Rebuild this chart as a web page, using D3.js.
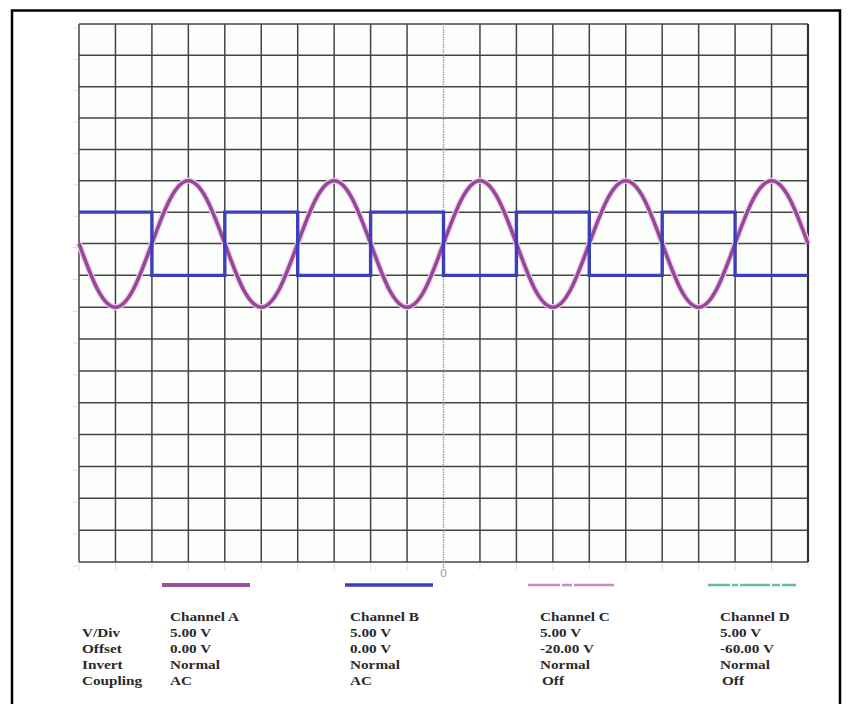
<!DOCTYPE html>
<html>
<head>
<meta charset="utf-8">
<script src="https://cdn.jsdelivr.net/npm/d3@7"></script>
<style>
  html, body { margin: 0; padding: 0; background: #fff; }
  svg { display: block; }
</style>
</head>
<body>
<div id="scopeDiv"></div>
<script>
//---trace data: time in divisions, volts---
var TimeA=[-10,-9.5,-9,-8.5,-8,-7.5,-7,-6.5,-6,-5.5,-5,-4.5,-4,-3.5,-3,-2.5,-2,-1.5,-1,-0.5,
  0,0.5,1,1.5,2,2.5,3,3.5,4,4.5,5,5.5,6,6.5,7,7.5,8,8.5,9,9.5,10]
var ChannelA=[0,-7.1,-10,-7.1,0,7.1,10,7.1,0,-7.1,-10,-7.1,0,7.1,10,7.1,0,-7.1,-10,-7.1,
  0,7.1,10,7.1,0,-7.1,-10,-7.1,0,7.1,10,7.1,0,-7.1,-10,-7.1,0,7.1,10,7.1,0]
var TimeB=[-10,-8,-6,-4,-2,0,2,4,6,8,10]
var ChannelB=[5,-5,5,-5,5,-5,5,-5,5,-5,-5]

//---settings table---
var ChannelNames=["Channel A","Channel B","Channel C","Channel D"]
var RowLabels=["V/Div","Offset","Invert","Coupling"]
var VoltsDiv=["5.00 V","5.00 V","5.00 V","5.00 V"]
var Offsets=["0.00 V","0.00 V","-20.00 V","-60.00 V"]
var Inverts=["Normal","Normal","Normal","Normal"]
var Couplings=["AC","AC","Off","Off"]

var TimeTicks=d3.range(-10,10.01,1)
var VoltTicks=d3.range(-50,35.01,5)

var W=852, H=704
var GridLeft=79, GridRight=808, GridTop=24, GridBottom=562

var ScopeSVG=d3.select("#scopeDiv").append("svg")
  .attr("width",W).attr("height",H)
  .attr("viewBox","0 0 "+W+" "+H)

var X=d3.scaleLinear().domain([-10,10]).range([GridLeft,GridRight])
var Y=d3.scaleLinear().domain([-50,0,35]).range([GridBottom,243.5,GridTop])

//---outer frame---
ScopeSVG.append("rect")
  .attr("x",12).attr("y",10.5)
  .attr("width",828).attr("height",700)
  .attr("fill","#fff")
  .attr("stroke","#000")
  .attr("stroke-width",2.5)

//---graticule---
ScopeSVG.append("rect")
  .attr("x",GridLeft).attr("y",GridTop)
  .attr("width",GridRight-GridLeft).attr("height",GridBottom-GridTop)
  .attr("fill","#fbfefb")

var GridG=ScopeSVG.append("g").attr("id","gridG")

//---faint ticks outside the grid---
GridG.selectAll("line.tickH").data(VoltTicks).enter().append("line")
  .attr("class","tickH")
  .attr("x1",GridLeft-6).attr("x2",GridLeft)
  .attr("y1",function(d){return Y(d)+4}).attr("y2",function(d){return Y(d)+4})
  .attr("stroke","#dde0dd").attr("stroke-width",1)
GridG.selectAll("line.tickV").data(TimeTicks).enter().append("line")
  .attr("class","tickV")
  .attr("x1",function(d){return X(d)}).attr("x2",function(d){return X(d)})
  .attr("y1",GridBottom).attr("y2",GridBottom+8)
  .attr("stroke","#e0e0e0").attr("stroke-width",1)

GridG.selectAll("line.hLine").data(VoltTicks).enter().append("line")
  .attr("class","hLine")
  .attr("x1",GridLeft).attr("x2",GridRight)
  .attr("y1",function(d){return Y(d)}).attr("y2",function(d){return Y(d)})
  .attr("stroke","#444").attr("stroke-width",1.5)

GridG.selectAll("line.vLine").data(TimeTicks.filter(function(d){return d!=0})).enter().append("line")
  .attr("class","vLine")
  .attr("x1",function(d){return X(d)}).attr("x2",function(d){return X(d)})
  .attr("y1",GridTop).attr("y2",GridBottom)
  .attr("stroke",function(d){return d==10?"#333":"#444"})
  .attr("stroke-width",function(d){return d==10?2.2:1.5})

//---center time line: lighter, dotted---
GridG.append("line")
  .attr("x1",X(0)).attr("x2",X(0))
  .attr("y1",GridTop).attr("y2",GridBottom+6)
  .attr("stroke","#9a9a9a").attr("stroke-width",1.4)
  .attr("stroke-dasharray","1.5 1")

ScopeSVG.append("text")
  .attr("x",X(0)).attr("y",GridBottom+15)
  .attr("text-anchor","middle")
  .attr("font-family","'DejaVu Sans', sans-serif")
  .attr("font-size",11)
  .attr("fill","#999")
  .text("0")

//---traces---
var TraceG=ScopeSVG.append("g").attr("id","traceG")

var lineA=d3.line()
  .x(function(d,i){return X(TimeA[i])})
  .y(function(d){return Y(d)})
  .curve(d3.curveNatural)
var lineB=d3.line()
  .x(function(d,i){return X(TimeB[i])})
  .y(function(d){return Y(d)})
  .curve(d3.curveStepAfter)

TraceG.append("path")
  .attr("d",lineA(ChannelA))
  .attr("fill","none")
  .attr("stroke","#ecccea")
  .attr("stroke-width",6)
TraceG.append("path")
  .attr("d",lineA(ChannelA))
  .attr("fill","none")
  .attr("stroke","#96479a")
  .attr("stroke-width",3.6)

TraceG.append("path")
  .attr("d",lineB(ChannelB))
  .attr("fill","none")
  .attr("stroke","#3c3eba")
  .attr("stroke-width",3.4)

//---legend swatches---
var SwatchX=[162,345,528,708]
var SwatchColor=["#9c4d9e","#3c3eba","#c98cc0","#6ab9a2"]
var SwatchDash=[null,null,"32 2 10 2 40","22 2 6 2 30 2 8 2"]
var SwatchWidth=[4,3.6,2.6,2.6]

ScopeSVG.append("g").selectAll("line").data(ChannelNames).enter().append("line")
  .attr("x1",function(d,i){return SwatchX[i]})
  .attr("x2",function(d,i){return SwatchX[i]+88})
  .attr("y1",585).attr("y2",585)
  .attr("stroke",function(d,i){return SwatchColor[i]})
  .attr("stroke-width",function(d,i){return SwatchWidth[i]})
  .attr("stroke-dasharray",function(d,i){return SwatchDash[i]})

//---settings text (stretched like the graticule)---
var StretchX=1.13
var TextG=ScopeSVG.append("g")
  .attr("transform","scale("+StretchX+",1)")
  .attr("font-family","'Liberation Serif', 'Times New Roman', serif")
  .attr("font-size",13.5)
  .attr("font-weight","bold")
  .attr("fill","#2a2a2a")

var RowY=[621,637,653,669,685]
var ColX=[170,350,540,720]

TextG.selectAll("text.rowLabel").data(RowLabels).enter().append("text")
  .attr("class","rowLabel")
  .attr("x",82/StretchX)
  .attr("y",function(d,i){return RowY[i+1]})
  .text(function(d){return d})

var Cols=ChannelNames.map(function(n,i){
  return [n,VoltsDiv[i],Offsets[i],Inverts[i],Couplings[i]]
})
Cols.forEach(function(col,c){
  TextG.selectAll("text.col"+c).data(col).enter().append("text")
    .attr("class","col"+c)
    .attr("x",function(d,r){return (ColX[c]+(r==4&&d=="Off"?2:0))/StretchX})
    .attr("y",function(d,r){return RowY[r]})
    .text(function(d){return d})
})
</script>
</body>
</html>
